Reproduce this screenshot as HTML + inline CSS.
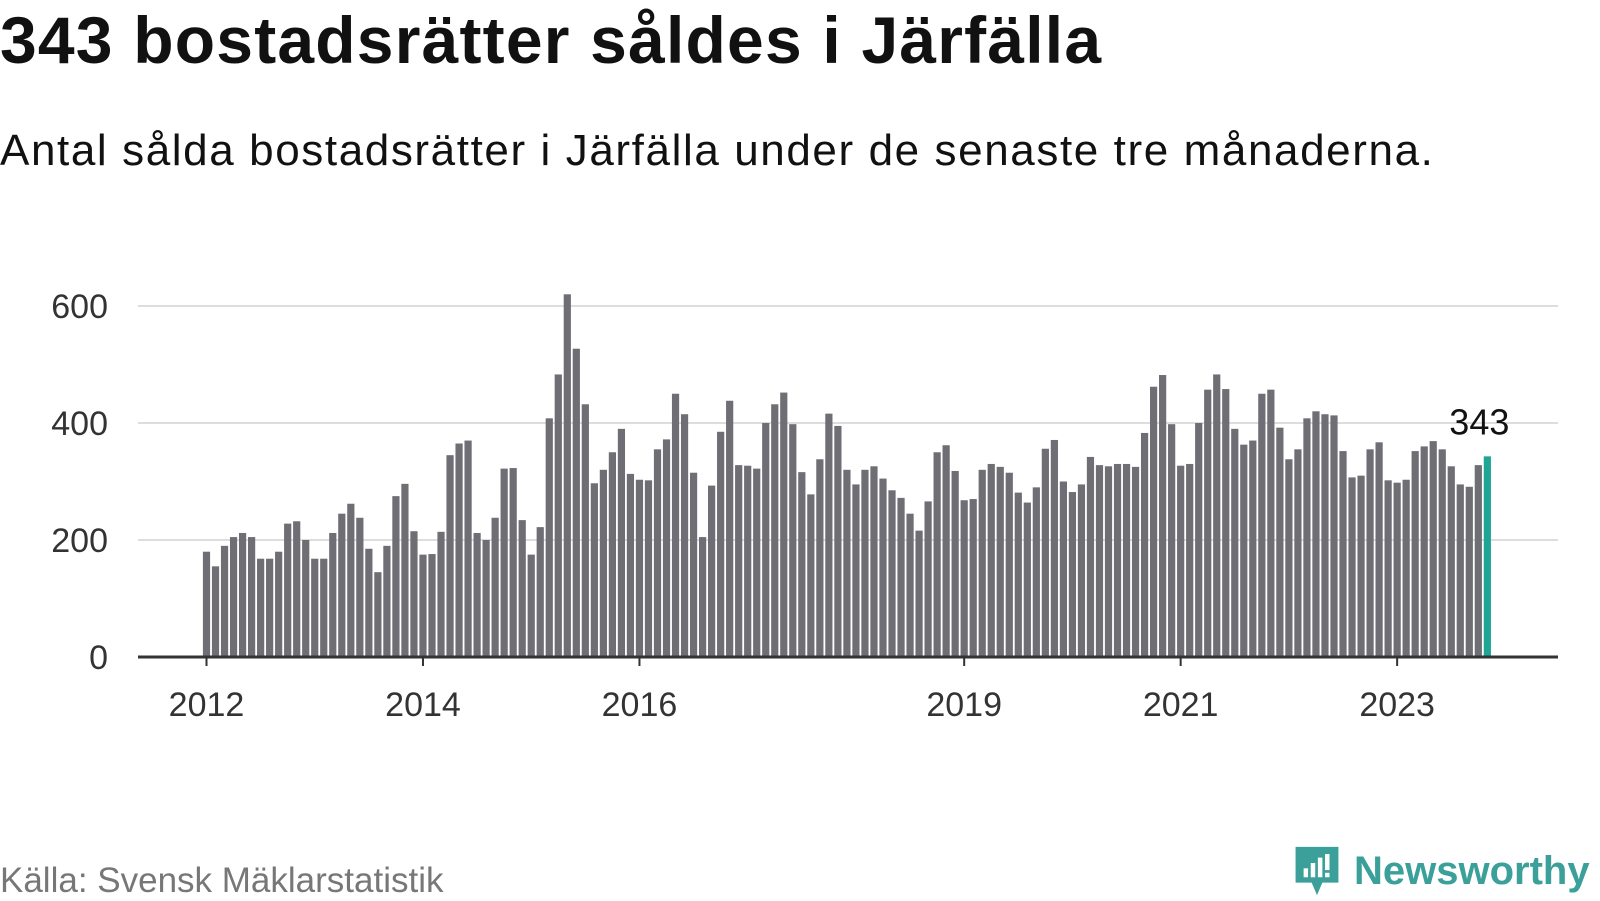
<!DOCTYPE html>
<html><head><meta charset="utf-8"><style>
body{margin:0;width:1600px;height:900px;background:#fff;font-family:"Liberation Sans",sans-serif;overflow:hidden;position:relative}
h1{position:absolute;left:0;top:2px;margin:0;font-size:66px;font-weight:bold;color:#111;letter-spacing:1.2px;white-space:nowrap}
.sub{position:absolute;left:0;top:126px;font-size:44px;color:#111;letter-spacing:1.6px;white-space:nowrap}
.src{position:absolute;left:0;top:861px;font-size:35px;color:#777;white-space:nowrap}
.logo{position:absolute;left:1292px;top:842px;display:flex;align-items:center}
.logo span{font-size:40px;font-weight:bold;color:#3aa099;margin-left:12px}
</style></head><body>
<h1>343 bostadsrätter såldes i Järfälla</h1>
<div class="sub">Antal sålda bostadsrätter i Järfälla under de senaste tre månaderna.</div>
<svg id="chart" width="1600" height="900" style="position:absolute;left:0;top:0"></svg>
<div class="src">Källa: Svensk Mäklarstatistik</div>
<div class="logo">
<svg width="50" height="58" viewBox="0 0 56 58"><path d="M4 2h48v40H34l-6 14-6-14H4z" fill="#3aa099"/><rect x="13" y="26" width="5" height="10" fill="#fff"/><rect x="21" y="20" width="5" height="16" fill="#fff"/><rect x="29" y="14" width="5" height="22" fill="#fff"/><rect x="37" y="10" width="5" height="18" fill="#fff"/><rect x="37" y="31" width="5" height="5" fill="#fff"/></svg>
<span>Newsworthy</span></div>
<script>
const values=[180,155,190,205,212,205,168,168,180,228,232,200,
168,168,212,245,262,238,185,145,190,275,296,215,
175,176,214,345,365,370,212,200,238,322,323,234,
175,222,408,483,620,527,432,297,320,350,390,313,
303,302,355,372,450,415,315,205,293,385,438,328,
327,322,400,432,452,398,316,278,338,416,395,320,
295,320,326,305,285,272,245,216,266,350,362,318,
268,270,320,330,325,315,281,264,290,356,371,300,
282,295,342,328,326,330,330,325,383,462,482,398,
327,330,400,457,483,458,390,363,370,450,457,392,
338,355,408,420,415,413,352,307,310,355,367,302,
298,303,352,360,369,355,326,295,291,328,343];
const yTicks=[0,200,400,600];
const xTickLabels=["2012","2014","2016","2019","2021","2023"];
const xTickIndex=[0,24,48,84,108,132];
const svg=document.getElementById('chart');const NS='http://www.w3.org/2000/svg';
const x0=206.5,step=9.02,y0=657,k=(657-306)/600;
const X=i=>x0+i*step, Y=v=>y0-v*k;
function mk(t,a){const e=document.createElementNS(NS,t);for(const n in a)e.setAttribute(n,a[n]);svg.appendChild(e);return e;}
yTicks.forEach(t=>{
 if(t>0){const g=mk('line',{x1:138,x2:1558,y1:Y(t),y2:Y(t),stroke:'#ddd','stroke-width':2});
 
 }
 const l=mk('text',{x:108,y:Y(t)+12,'text-anchor':'end','font-size':34,fill:'#333','font-family':'Liberation Sans, sans-serif'});l.textContent=t;
 
 
});
values.forEach((v,i)=>{
 const last=i===values.length-1;
 const r=mk('rect',{x:X(i)-3.6,y:Y(v),width:7.2,height:v*k,fill:last?'#1fa596':'#6f6e75'});
 
 
});
const ax=mk('line',{x1:138,x2:1558,y1:y0,y2:y0,stroke:'#333','stroke-width':3});


xTickIndex.forEach((idx,j)=>{
 const t=mk('line',{x1:X(idx),x2:X(idx),y1:y0,y2:y0+9,stroke:'#333','stroke-width':2});
 
 
 const l=mk('text',{x:X(idx),y:716,'text-anchor':'middle','font-size':34,fill:'#333','font-family':'Liberation Sans, sans-serif'});l.textContent=xTickLabels[j];
 
 
});
const li=values.length-1;
const lab=mk('text',{x:X(li)-8,y:Y(values[li])-22,'text-anchor':'middle','font-size':36,fill:'#111','font-family':'Liberation Sans, sans-serif'});lab.textContent=values[li];


</script>
</body></html>
